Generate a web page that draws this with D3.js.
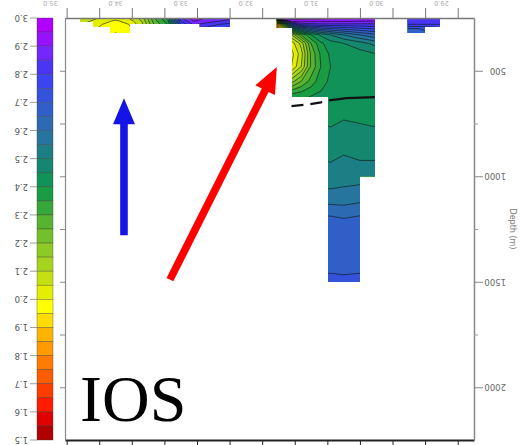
<!DOCTYPE html>
<html>
<head>
<meta charset="utf-8">
<script src="https://cdn.jsdelivr.net/npm/d3@7"></script>
<style>
  body { margin: 0; background: #fff; }
  svg { display: block; }
</style>
</head>
<body>
<div id="chart"></div>
<script>
// colour bar: labels top -> bottom, one colour per 0.05 band (top first)
const cbarLabels = [3.0, 2.9, 2.8, 2.7, 2.6, 2.5, 2.4, 2.3, 2.2, 2.1, 2.0, 1.9, 1.8, 1.7, 1.6, 1.5];
const bandColors = [
  "#b000ff", "#9612ff", "#7426ff", "#4a35f5", "#3c44f2", "#3552dd", "#315fc8", "#2d6ab4",
  "#26759e", "#1d7f86", "#14876e", "#109258", "#1a9c44", "#36a738", "#56b430", "#74c02a",
  "#8cca26", "#a6d41e", "#c4e010", "#e4ee00", "#ffff00", "#ffdc00", "#ffb400", "#ff9a00",
  "#ff7c00", "#ff5c00", "#ff3c00", "#ff1a00", "#e00000", "#b00000"
];
const bandStep = 0.05;
const cbarMin = 1.5, cbarMax = 3.0;

// axes
const xTicks = [0, 1, 2, 3, 4, 5, 6, 7, 8, 9, 10, 11, 12];
const xLabelTicks = [0, 2, 4, 6, 8, 10, 12];
const xTickLabels = ["35.0", "34.0", "33.0", "32.0", "31.0", "30.0", "29.0"];
const depthMajor = [500, 1000, 1500, 2000];
const depthMinor = [750, 1250, 1750];
const depthLeft = [500, 750, 1000, 1250, 1500, 1750, 2000];

// section 1: thin surface strip on the left
const stripCols = [0.0, 0.6, 1.1, 1.5, 1.9, 2.3, 2.7, 3.1, 3.5, 3.9, 4.3, 4.7, 5.1];
const stripDepths = [250, 265, 280, 300, 320, 335];
const stripValues = [
  [2.12, 2.08, 2.04, 2.02, 2.05, 2.12, 2.30, 2.40, 2.85, 2.93, 2.90, 2.88, 2.86],
  [2.10, 2.06, 2.02, 1.99, 2.02, 2.10, 2.28, 2.38, 2.80, 2.90, 2.87, 2.85, 2.83],
  [2.08, 2.04, 2.00, 1.97, 2.00, 2.08, 2.26, 2.35, 2.75, 2.86, 2.83, 2.80, 2.78],
  [2.06, 2.02, 1.99, 1.96, 1.98, 2.06, 2.24, 2.33, 2.70, 2.80, 2.78, 2.75, 2.72],
  [2.05, 2.01, 1.98, 1.95, 1.97, 2.05, 2.22, 2.30, 2.65, 2.75, 2.72, 2.70, 2.68],
  [2.04, 2.00, 1.97, 1.94, 1.96, 2.04, 2.20, 2.28, 2.60, 2.72, 2.70, 2.68, 2.66]
];
// [x0, x1, bottom depth] of each measured piece
const stripMask = [[0.41, 0.81, 269], [0.81, 1.33, 293], [1.33, 1.94, 321], [1.94, 4.09, 278], [4.09, 5.01, 293]];

// section 2: main deep block
const mainCols = [6.4, 6.9, 7.2, 7.5, 7.8, 8.1, 8.5, 9.0, 9.5];
const mainDepths = [250, 265, 280, 300, 330, 370, 420, 480, 550, 620, 700, 800, 900, 1000, 1100, 1200, 1300, 1400, 1500];
const mainValues = [
  [2.98, 2.97, 2.97, 2.97, 2.97, 2.96, 2.96, 2.96, 2.96],
  [2.20, 2.92, 2.92, 2.91, 2.91, 2.91, 2.91, 2.90, 2.90],
  [1.80, 2.70, 2.82, 2.83, 2.84, 2.84, 2.84, 2.84, 2.84],
  [1.70, 2.45, 2.58, 2.64, 2.68, 2.70, 2.72, 2.74, 2.76],
  [1.80, 2.15, 2.30, 2.40, 2.46, 2.50, 2.55, 2.60, 2.64],
  [2.00, 2.02, 2.12, 2.30, 2.39, 2.43, 2.45, 2.48, 2.52],
  [1.98, 1.98, 2.08, 2.26, 2.36, 2.41, 2.42, 2.43, 2.45],
  [2.00, 2.00, 2.10, 2.26, 2.35, 2.40, 2.42, 2.42, 2.43],
  [2.15, 2.18, 2.25, 2.32, 2.38, 2.41, 2.42, 2.42, 2.42],
  [2.36, 2.38, 2.39, 2.40, 2.41, 2.42, 2.42, 2.42, 2.42],
  [2.43, 2.43, 2.43, 2.43, 2.43, 2.43, 2.44, 2.43, 2.43],
  [2.47, 2.47, 2.47, 2.47, 2.47, 2.46, 2.47, 2.47, 2.46],
  [2.49, 2.49, 2.49, 2.49, 2.49, 2.49, 2.50, 2.49, 2.49],
  [2.53, 2.53, 2.53, 2.53, 2.53, 2.52, 2.53, 2.53, 2.53],
  [2.57, 2.57, 2.57, 2.57, 2.57, 2.57, 2.57, 2.58, 2.58],
  [2.66, 2.66, 2.66, 2.66, 2.66, 2.66, 2.65, 2.66, 2.66],
  [2.67, 2.67, 2.67, 2.67, 2.67, 2.67, 2.67, 2.67, 2.67],
  [2.685, 2.685, 2.685, 2.685, 2.685, 2.685, 2.68, 2.685, 2.685],
  [2.71, 2.71, 2.71, 2.71, 2.71, 2.71, 2.71, 2.71, 2.71]
];
const mainMask = [[6.45, 6.92, 297], [6.92, 8.02, 624], [8.02, 9.0, 1500], [9.0, 9.46, 1000]];

// section 3: small strip on the right
const eastCols = [10.4, 10.8, 11.2, 11.6];
const eastDepths = [250, 265, 280, 300, 320, 335];
const eastValues = [
  [2.84, 2.84, 2.84, 2.84],
  [2.82, 2.82, 2.82, 2.82],
  [2.80, 2.80, 2.80, 2.80],
  [2.70, 2.70, 2.72, 2.74],
  [2.67, 2.67, 2.70, 2.72],
  [2.66, 2.66, 2.69, 2.71]
];
const eastMask = [[10.47, 11.45, 293], [10.47, 10.99, 321]];

// black reference line across the main block (dashed where no data)
const refLineX = [6.9, 7.4, 7.8, 8.05, 8.6, 9.46];
const refLineDepth = [668, 660, 650, 640, 630, 625];
const refLineDashedUntil = 3;

// annotation arrows, in data units
const arrows = [
  { x1: 1.76, d1: 1280, x2: 1.76, d2: 630, color: "#1414e6" },
  { x1: 3.17, d1: 1490, x2: 6.45, d2: 482, color: "#ff0000" }
];

const width = 520, height = 445;
const svg = d3.select("#chart").append("svg")
  .attr("width", width)
  .attr("height", height);
const defs = svg.append("defs");

const x = d3.scaleLinear().domain([-0.05, 12.5]).range([65, 474]);
const y = d3.scaleLinear().domain([250, 2250]).range([18, 440]);
const cy = d3.scaleLinear().domain([cbarMin, cbarMax]).range([440, 18]);

const thresholds = bandColors.map((c, i) => cbarMax - bandStep * (i + 1));
const colorFor = t => bandColors[Math.round((cbarMax - t) / bandStep) - 1];

// piecewise linear lookup from contour grid coordinate to data value
function lookup(arr, c) {
  const i = c - 0.5;
  let k = Math.floor(i);
  k = Math.max(0, Math.min(arr.length - 2, k));
  return arr[k] + (i - k) * (arr[k + 1] - arr[k]);
}

function drawSection(id, cols, depths, values, mask) {
  const contours = d3.contours()
    .size([cols.length, depths.length])
    .thresholds(thresholds)(values.flat());

  const proj = d3.geoTransform({
    point(px, py) { this.stream.point(x(lookup(cols, px)), y(lookup(depths, py))); }
  });
  const path = d3.geoPath(proj);

  defs.append("clipPath").attr("id", id)
    .selectAll("rect")
    .data(mask)
    .join("rect")
    .attr("x", d => x(d[0]))
    .attr("y", y(250))
    .attr("width", d => x(d[1]) - x(d[0]))
    .attr("height", d => y(d[2]) - y(250));

  const g = svg.append("g").attr("clip-path", `url(#${id})`);
  g.selectAll("path.fill")
    .data(contours.slice().sort((a, b) => a.value - b.value))
    .join("path")
    .attr("class", "fill")
    .attr("d", path)
    .attr("fill", d => colorFor(d.value));
  g.selectAll("path.iso")
    .data(contours)
    .join("path")
    .attr("class", "iso")
    .attr("d", path)
    .attr("fill", "none")
    .attr("stroke", "#111")
    .attr("stroke-opacity", 0.75)
    .attr("stroke-width", 0.8);
}

drawSection("clip-strip", stripCols, stripDepths, stripValues, stripMask);
drawSection("clip-main", mainCols, mainDepths, mainValues, mainMask);
drawSection("clip-east", eastCols, eastDepths, eastValues, eastMask);

// reference line
const refPts = refLineX.map((v, i) => [x(v), y(refLineDepth[i])]);
const line = d3.line();
svg.append("path")
  .attr("d", line(refPts.slice(0, refLineDashedUntil + 1)))
  .attr("fill", "none")
  .attr("stroke", "#111")
  .attr("stroke-width", 2.2)
  .attr("stroke-dasharray", "12,7");
svg.append("path")
  .attr("d", line(refPts.slice(refLineDashedUntil)))
  .attr("fill", "none")
  .attr("stroke", "#111")
  .attr("stroke-width", 2.2);

// frame and axes
const axisStyle = (g, color, w) => {
  g.select(".domain").attr("stroke", color).attr("stroke-width", w);
  g.selectAll(".tick line").attr("stroke", color);
};

svg.append("g")
  .attr("transform", `translate(0,${y(250)})`)
  .call(d3.axisTop(x).tickValues(xTicks).tickSize(10).tickSizeOuter(0).tickFormat(""))
  .call(g => axisStyle(g, "#777", 1.5));

svg.append("g")
  .attr("transform", `translate(0,${y(2250)})`)
  .call(d3.axisBottom(x).tickValues(xTicks).tickSize(5).tickSizeOuter(0).tickFormat(""))
  .call(g => axisStyle(g, "#222", 2));

svg.append("g")
  .attr("transform", `translate(${x(-0.05)},0)`)
  .call(d3.axisLeft(y).tickValues(depthLeft).tickSize(5).tickSizeOuter(0).tickFormat(""))
  .call(g => axisStyle(g, "#888", 1.2));

svg.append("g")
  .attr("transform", `translate(${x(12.5)},0)`)
  .call(d3.axisRight(y).tickValues(depthMajor).tickSize(9).tickSizeOuter(0).tickFormat(""))
  .call(g => axisStyle(g, "#888", 1.5));

svg.append("g")
  .attr("transform", `translate(${x(12.5)},0)`)
  .call(d3.axisRight(y).tickValues(depthMinor).tickSize(4).tickSizeOuter(0).tickFormat(""))
  .call(g => g.select(".domain").remove())
  .call(g => g.selectAll(".tick line").attr("stroke", "#999"));

// upside-down labels, as in the original picture
svg.append("g")
  .selectAll("text")
  .data(depthMajor)
  .join("text")
  .attr("transform", d => `translate(506,${y(d) - 3}) rotate(180)`)
  .attr("font-family", "DejaVu Sans")
  .attr("font-size", 8.5)
  .attr("fill", "#666")
  .text(d => d);

svg.append("text")
  .attr("transform", `translate(510,${y(1250)}) rotate(90)`)
  .attr("text-anchor", "middle")
  .attr("font-family", "DejaVu Sans")
  .attr("font-size", 8)
  .attr("fill", "#777")
  .text("Depth (m)");

svg.append("g")
  .selectAll("text")
  .data(xLabelTicks)
  .join("text")
  .attr("transform", d => `translate(${x(d) - 9},1) rotate(180)`)
  .attr("font-family", "DejaVu Sans")
  .attr("font-size", 6.5)
  .attr("fill", "#aaa")
  .text((d, i) => xTickLabels[i]);

// colour bar
const cbar = svg.append("g");
cbar.selectAll("rect")
  .data(bandColors)
  .join("rect")
  .attr("x", 37)
  .attr("width", 16)
  .attr("y", (c, i) => cy(cbarMax - bandStep * i))
  .attr("height", (c, i) => cy(cbarMax - bandStep * (i + 1)) - cy(cbarMax - bandStep * i))
  .attr("fill", c => c)
  .attr("stroke", "#333")
  .attr("stroke-opacity", 0.55)
  .attr("stroke-width", 0.6);

cbar.selectAll("line")
  .data(cbarLabels)
  .join("line")
  .attr("x1", 30)
  .attr("x2", 37)
  .attr("y1", d => cy(d))
  .attr("y2", d => cy(d))
  .attr("stroke", "#888")
  .attr("stroke-width", 0.8);

cbar.selectAll("text")
  .data(cbarLabels)
  .join("text")
  .attr("transform", d => `translate(28,${cy(d) - 3}) rotate(180)`)
  .attr("font-family", "DejaVu Sans")
  .attr("font-size", 8.5)
  .attr("fill", "#555")
  .text(d => d.toFixed(1));

// arrows
function arrowPath(a) {
  const x1 = x(a.x1), y1 = y(a.d1), x2 = x(a.x2), y2 = y(a.d2);
  const len = Math.hypot(x2 - x1, y2 - y1);
  const ux = (x2 - x1) / len, uy = (y2 - y1) / len;
  const nx = -uy, ny = ux;
  const headL = 26, headW = 11, shaftW = 3.8;
  const bx = x2 - ux * headL, by = y2 - uy * headL;
  const pts = [
    [x1 + nx * shaftW, y1 + ny * shaftW],
    [bx + nx * shaftW, by + ny * shaftW],
    [bx + nx * headW, by + ny * headW],
    [x2, y2],
    [bx - nx * headW, by - ny * headW],
    [bx - nx * shaftW, by - ny * shaftW],
    [x1 - nx * shaftW, y1 - ny * shaftW]
  ];
  return "M" + pts.map(p => p.join(",")).join("L") + "Z";
}

svg.append("g")
  .selectAll("path")
  .data(arrows)
  .join("path")
  .attr("d", arrowPath)
  .attr("fill", d => d.color);

svg.append("text")
  .attr("x", 80)
  .attr("y", 421)
  .attr("font-family", "Liberation Serif")
  .attr("font-size", 66)
  .attr("fill", "#000")
  .text("IOS");
</script>
</body>
</html>
